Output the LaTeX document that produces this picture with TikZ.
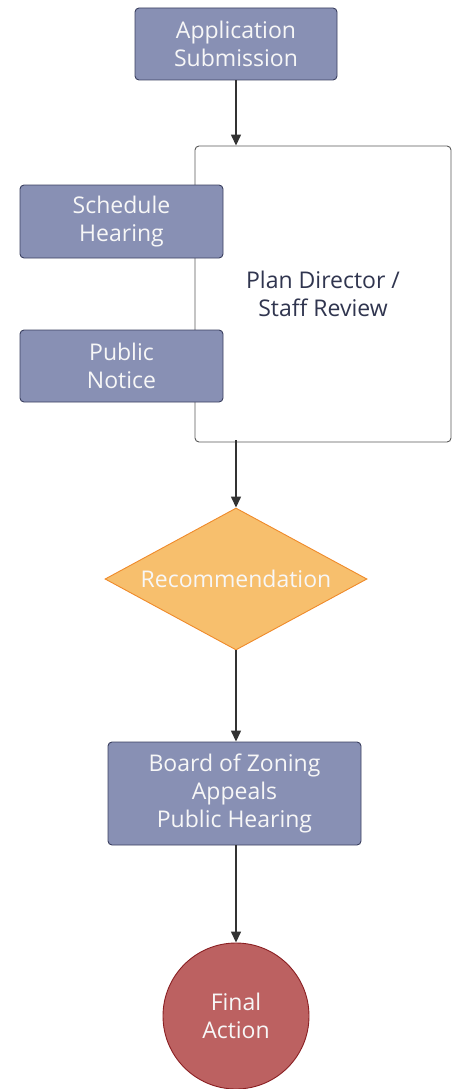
\documentclass[tikz,border=0pt]{standalone}
\usepackage{fontspec}
\setmainfont{Open Sans}
\usetikzlibrary{shapes.geometric,arrows.meta}
\definecolor{boxfill}{HTML}{8890B4}
\definecolor{boxline}{HTML}{3B4060}
\definecolor{dfill}{HTML}{F7BF6D}
\definecolor{dline}{HTML}{EF8A2A}
\definecolor{cfill}{HTML}{BC6161}
\definecolor{cline}{HTML}{8A1F22}
\definecolor{txtlight}{HTML}{F7F7F7}
\definecolor{txtdark}{HTML}{30354F}
\definecolor{arr}{HTML}{333333}
\begin{document}
\begin{tikzpicture}[x=1pt,y=-1pt,
  lbl/.style={font=\fontsize{23}{28}\selectfont, align=center},
  procbox/.style={lbl, draw=boxline, fill=boxfill, text=txtlight, rounded corners=4pt, line width=0.9pt, inner sep=0pt},
  conn/.style={draw=arr, line width=1.4pt, -{Triangle[length=11pt,width=10pt]}}]
\useasboundingbox (0,0) rectangle (455,1089);
% big review box
\node[lbl, draw=black!65, fill=white, rounded corners=4pt, line width=0.9pt, text=txtdark,
  minimum width=256pt, minimum height=296pt, inner sep=0pt] (review) at (323,294) {Plan Director /\\Staff Review};
\node[procbox, minimum width=202pt, minimum height=72pt] (app) at (236,44) {Application\\Submission};
\node[procbox, minimum width=203pt, minimum height=73pt] (sched) at (121.5,221.5) {Schedule\\Hearing};
\node[procbox, minimum width=203pt, minimum height=72pt] (notice) at (121.5,366) {Public\\Notice};
\node[lbl, diamond, draw=dline, fill=dfill, text=txtlight, line width=0.9pt, inner sep=0pt,
  shape aspect=1.845, minimum width=262pt, minimum height=142pt] (rec) at (236,579) {Recommendation};
\node[procbox, minimum width=253pt, minimum height=103pt] (board) at (234.5,793.5) {Board of Zoning\\Appeals\\Public Hearing};
\node[lbl, circle, draw=cline, fill=cfill, text=txtlight, line width=0.9pt, inner sep=0pt,
  minimum size=146pt] (final) at (236,1016) {Final\\Action};
\coordinate (revout) at (236,440);
\draw[conn] (app.south) -- (app.south |- review.north);
\draw[conn] (revout) -- (rec.north);
\draw[conn] (rec.south) -- (rec.south |- board.north);
\draw[conn] (board.south -| final.north) -- (final.north);
\end{tikzpicture}
\end{document}
